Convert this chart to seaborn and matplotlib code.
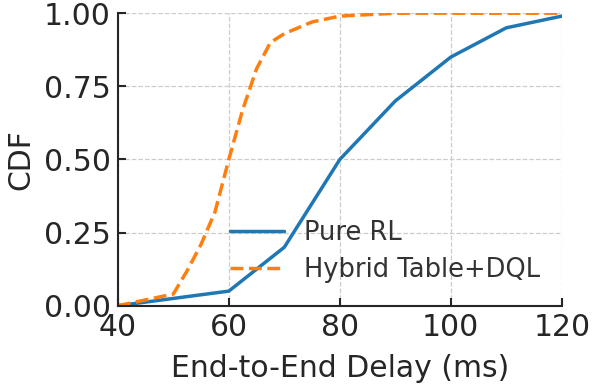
import pandas as pd
import seaborn as sns
import matplotlib.pyplot as plt

# Data
pure_delay = [40, 50, 60, 70, 80, 90, 100, 110, 120]
pure_cdf = [0.0, 0.025, 0.05, 0.2, 0.5, 0.7, 0.85, 0.95, 0.99]

hybrid_delay = [40, 50, 52.5, 55, 57.5, 60, 62.5, 65, 67.5, 70, 75, 80, 90, 100, 110, 120]
hybrid_cdf = [0.0, 0.04, 0.12, 0.21, 0.32, 0.5, 0.67, 0.81, 0.9, 0.93, 0.97, 0.99, 1.0, 1.0, 1.0, 1.0]

labels = ['Pure RL', 'Hybrid Table+DQL']

df = pd.concat([
    pd.DataFrame({'delay': pure_delay, 'cdf': pure_cdf, 'method': labels[0]}),
    pd.DataFrame({'delay': hybrid_delay, 'cdf': hybrid_cdf, 'method': labels[1]}),
])

sns.set_style("ticks")
plt.rcParams['font.family'] = ['DejaVu Sans']

fig, ax = plt.subplots(figsize=(5.92, 3.88), dpi=100)
fig.subplots_adjust(left=0.199, right=0.949, top=0.966, bottom=0.212)

sns.lineplot(data=df, x='delay', y='cdf', hue='method', style='method',
             palette=['#1f77b4', '#ff7f0e'], dashes=[(None, None), (3.7, 1.6)],
             linewidth=2.5, ax=ax)

ax.set_xlim(40, 120)
ax.set_ylim(0, 1.0)
ax.set_xticks([40, 60, 80, 100, 120])
ax.set_yticks([0, 0.25, 0.5, 0.75, 1.0])
ax.set_yticklabels(['0.00', '0.25', '0.50', '0.75', '1.00'])
ax.grid(True, linestyle='--', color='#cccccc', linewidth=0.9)
ax.set_axisbelow(True)
sns.despine(ax=ax)
for s in ['left', 'bottom']:
    ax.spines[s].set_linewidth(1.5)
    ax.spines[s].set_color('#262626')
ax.tick_params(labelsize=21.5, width=1.5, length=6, pad=5, direction='in',
               colors='#262626')

ax.set_xlabel('End-to-End Delay (ms)', fontsize=21.5, color='#262626', labelpad=9)
ax.set_ylabel('CDF', fontsize=21.5, color='#262626', labelpad=6)

leg = ax.legend(title=None, frameon=False, fontsize=18.5, loc='lower left',
                bbox_to_anchor=(0.2, 0.0), handlelength=2.1, labelspacing=0.4)
for t in leg.get_texts():
    t.set_color('#333333')

fig.savefig('out.png', dpi=100)
